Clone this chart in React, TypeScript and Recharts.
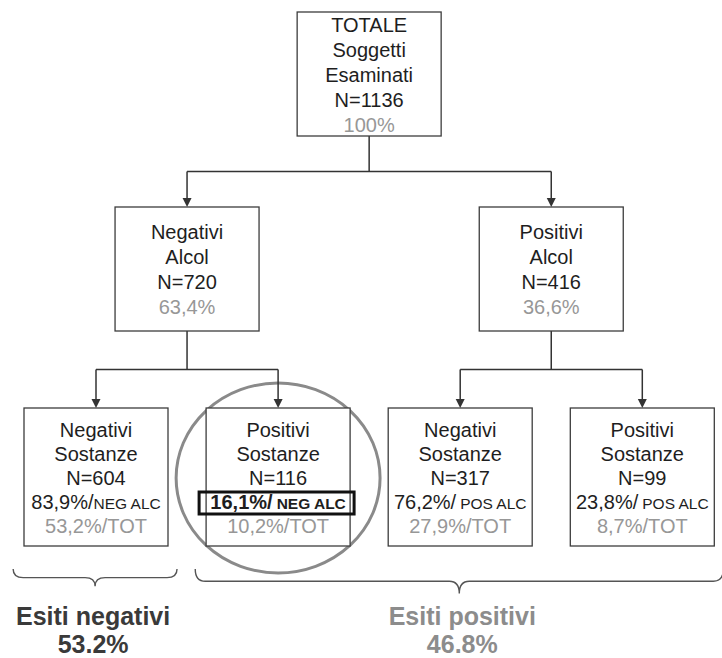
import { ScatterChart, Scatter, XAxis, YAxis, ReferenceLine, ReferenceArea } from 'recharts';

// tree nodes: 0 = total, 1-2 = alcohol test, 3-6 = substance test
const nodeTitles = [
  ['TOTALE', 'Soggetti', 'Esaminati'],
  ['Negativi', 'Alcol'],
  ['Positivi', 'Alcol'],
  ['Negativi', 'Sostanze'],
  ['Positivi', 'Sostanze'],
  ['Negativi', 'Sostanze'],
  ['Positivi', 'Sostanze'],
];
const nodeParents = [-1, 0, 0, 1, 1, 2, 2];
const nodeCounts = [1136, 720, 416, 604, 116, 317, 99];
const pctOfTotal = [100, 63.4, 36.6, 53.2, 10.2, 27.9, 8.7];
const pctOfParent: (number | null)[] = [null, null, null, 83.9, 16.1, 76.2, 23.8];
const parentTags = ['', '', '', 'NEG ALC', 'NEG ALC', 'POS ALC', 'POS ALC'];
const highlightedNode = 4;

const outcomeLabels = ['Esiti negativi', 'Esiti positivi'];
const outcomeShares = [53.2, 46.8];
const outcomeLeaves = [[3], [4, 5, 6]];
const outcomeColors = ['#3a3a3a', '#8c8c8c'];

// layout
const W = 722;
const H = 658;
const SLOT_PX = 182.1;
const SLOT0_PX = 96;
const BOX_W = 144;
const LEVEL_TOP = [12, 207, 408];
const LEVEL_H = [124, 124, 138];
const FIRST_LINE = [20, 32, 29];
const LINE_H = [25, 25, 24];
const FONT = '"Liberation Sans", Arial, sans-serif';
const INK = '#1e1e1e';
const GRAY = '#979797';

const fmt = (v: number) => (v === 100 ? '100%' : v.toFixed(1).replace('.', ',') + '%');

const levelOf = (i: number): number => (nodeParents[i] < 0 ? 0 : levelOf(nodeParents[i]) + 1);
const childrenOf = (i: number) => nodeParents.map((p, k) => (p === i ? k : -1)).filter((k) => k >= 0);
const leafOrder = nodeParents.map((_, i) => i).filter((i) => childrenOf(i).length === 0);
const xOf = (i: number): number => {
  const ch = childrenOf(i);
  if (ch.length === 0) return leafOrder.indexOf(i);
  return ch.reduce((s, c) => s + xOf(c), 0) / ch.length;
};

const nodes = nodeTitles.map((_, i) => ({ id: i, level: levelOf(i), x: xOf(i), y: LEVEL_TOP[levelOf(i)] }));

const segments: { x: number; y: number }[][] = [];
nodes.forEach((n) => {
  const ch = childrenOf(n.id);
  if (!ch.length) return;
  const bottom = n.y + LEVEL_H[n.level];
  const childTop = LEVEL_TOP[n.level + 1];
  const bus = (bottom + childTop) / 2;
  const xs = ch.map((c) => nodes[c].x);
  segments.push([{ x: n.x, y: bottom }, { x: n.x, y: bus }]);
  segments.push([{ x: Math.min(...xs), y: bus }, { x: Math.max(...xs), y: bus }]);
  xs.forEach((x) => segments.push([{ x, y: bus }, { x, y: childTop - 8 }]));
});

const NodeBox = (props: any) => {
  const { cx, cy, payload } = props;
  const i = payload.id;
  const lv = payload.level;
  const left = cx - BOX_W / 2;
  const isLeaf = childrenOf(i).length === 0;
  const rows: any[] = [];
  nodeTitles[i].forEach((t) => rows.push({ text: t }));
  rows.push({ text: `N=${nodeCounts[i]}` });
  const pp = pctOfParent[i];
  if (pp != null) rows.push({ text: `${fmt(pp)}/`, tag: parentTags[i], bold: i === highlightedNode });
  rows.push({ text: isLeaf ? `${fmt(pctOfTotal[i])}/TOT` : fmt(pctOfTotal[i]), gray: true });
  return (
    <g>
      {lv > 0 && <polygon points={`${cx - 4.5},${cy - 9} ${cx + 4.5},${cy - 9} ${cx},${cy}`} fill="#333" />}
      <rect x={left} y={cy} width={BOX_W} height={LEVEL_H[lv]} fill="#fff" stroke="#3c3c3c" strokeWidth={1.3} />
      {rows.map((r, k) => {
        const base = cy + FIRST_LINE[lv] + k * LINE_H[lv];
        return (
          <g key={k}>
            {r.bold && (
              <rect x={left - 7} y={base - 17} width={BOX_W + 11} height={22} fill="none" stroke="#111" strokeWidth={3} />
            )}
            <text
              x={cx}
              y={base}
              textAnchor="middle"
              fontFamily={FONT}
              fontSize={20}
              fontWeight={r.bold ? 'bold' : 'normal'}
              fill={r.gray ? GRAY : INK}
            >
              {r.text}
              {r.tag && (
                <tspan fontSize={15.5} dx={i === 3 ? 0 : 4}>
                  {r.tag}
                </tspan>
              )}
            </text>
          </g>
        );
      })}
    </g>
  );
};

const Brace = (props: any) => {
  const { x, y, width, k } = props;
  const depth = 14 + width * 0.02;
  const ym = y + depth * 0.5;
  const yt = y + depth;
  const xm = x + width / 2;
  const r = 10;
  const d = `M${x},${y} Q${x},${ym} ${x + r},${ym} L${xm - r},${ym} Q${xm},${ym} ${xm},${yt} Q${xm},${ym} ${xm + r},${ym} L${x + width - r},${ym} Q${x + width},${ym} ${x + width},${y}`;
  return (
    <g>
      <path d={d} fill="none" stroke="#555" strokeWidth={1.4} />
      <text x={xm + (k === 1 ? 3 : -2)} y={625} textAnchor="middle" fontFamily={FONT} fontSize={25} fontWeight="bold" fill={outcomeColors[k]}>
        {outcomeLabels[k]}
      </text>
      <text x={xm + (k === 1 ? 3 : -2)} y={653} textAnchor="middle" fontFamily={FONT} fontSize={25} fontWeight="bold" fill={outcomeColors[k]}>
        {outcomeShares[k].toFixed(1)}%
      </text>
    </g>
  );
};

const Ring = (props: any) => {
  const { x, y, width, height } = props;
  return (
    <ellipse cx={x + width / 2} cy={y + height / 2} rx={width / 2} ry={height / 2} fill="none" stroke="#8a8a8a" strokeWidth={3} />
  );
};

export default function App() {
  const hl = nodes[highlightedNode];
  return (
    <div style={{ width: W, height: H, background: '#fff' }}>
      <style>{'body{margin:0}'}</style>
      <ScatterChart width={W} height={H} margin={{ top: 0, right: 0, bottom: 0, left: 0 }}>
        <XAxis type="number" dataKey="x" domain={[-SLOT0_PX / SLOT_PX, (W - SLOT0_PX) / SLOT_PX]} hide />
        <YAxis type="number" dataKey="y" domain={[0, H]} reversed hide />
        {segments.map((s, k) => (
          <ReferenceLine key={k} segment={s} stroke="#333" strokeWidth={1.5} ifOverflow="visible" />
        ))}
        <Scatter data={nodes} isAnimationActive={false} shape={(p: any) => <NodeBox {...p} />} />
        <ReferenceArea
          x1={hl.x - 0.56}
          x2={hl.x + 0.56}
          y1={383}
          y2={573}
          ifOverflow="visible"
          shape={(p: any) => <Ring {...p} />}
        />
        {outcomeLeaves.map((ls, k) => (
          <ReferenceArea
            key={k}
            x1={nodes[ls[0]].x - 0.455}
            x2={nodes[ls[ls.length - 1]].x + 0.445}
            y1={569}
            y2={595}
            ifOverflow="visible"
            shape={(p: any) => <Brace {...p} k={k} />}
          />
        ))}
      </ScatterChart>
    </div>
  );
}
